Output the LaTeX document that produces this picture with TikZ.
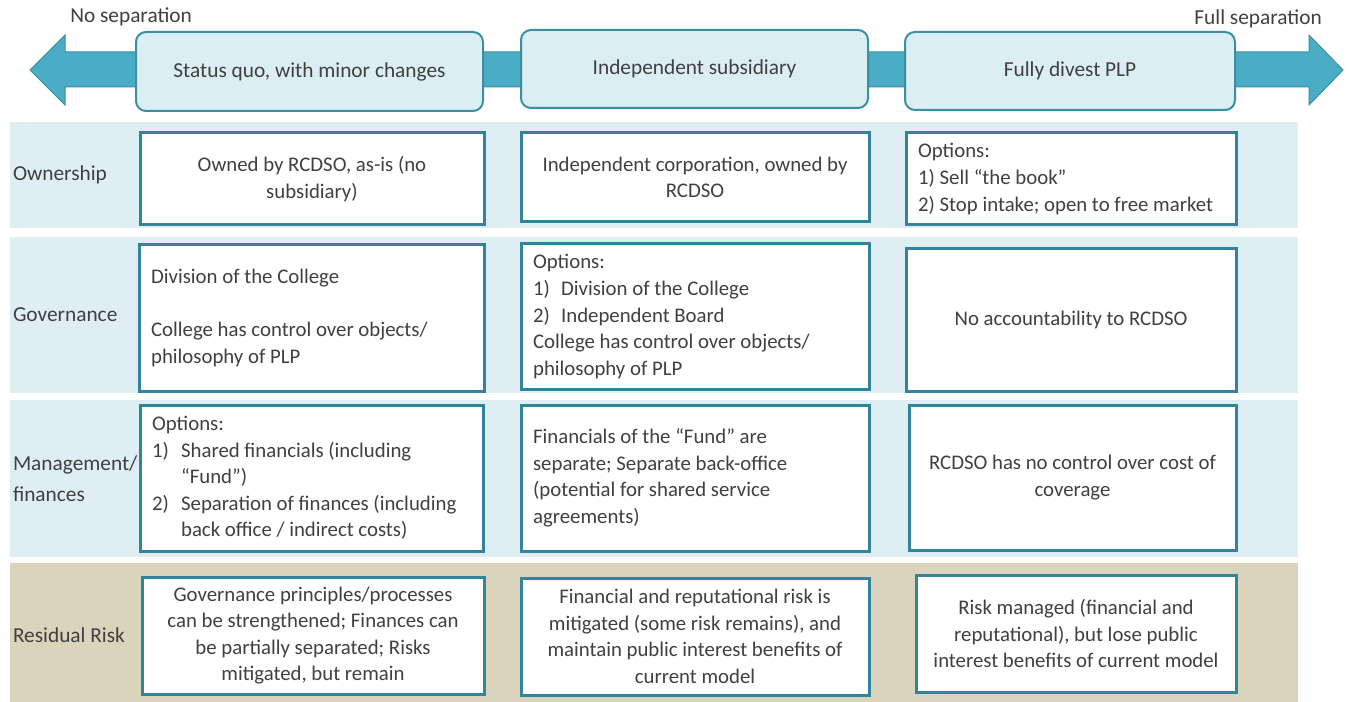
\documentclass[tikz,border=0pt]{standalone}
\usepackage{fontspec}
\setmainfont{Carlito}
\usepackage{tikz}
\usetikzlibrary{positioning}

\definecolor{tealline}{HTML}{31849B}
\definecolor{arrowfill}{HTML}{4BACC6}
\definecolor{arrowline}{HTML}{3C8EA1}
\definecolor{stagefill}{HTML}{DBEEF3}
\definecolor{blueband}{HTML}{DEEEF3}
\definecolor{tanband}{HTML}{D9D4BB}
\definecolor{textgrey}{HTML}{404040}

\begin{document}
\begin{tikzpicture}[
x=0.75pt, y=-0.75pt,
every node/.style={text=textgrey, font=\fontsize{16}{19.9}\selectfont},
stagenode/.style={rectangle, rounded corners=7.5pt, draw=arrowline, line width=1.5pt, fill=stagefill, inner sep=0pt},
bandnode/.style={rectangle, inner sep=0pt, minimum width=966pt},
cellnode/.style={rectangle, draw=tealline, line width=2.25pt, fill=white, inner sep=0pt, align=center, font=\fontsize{15.6}{19.9}\selectfont},
celltext/.style={inner sep=0pt, align=left, font=\fontsize{15.6}{19.9}\selectfont},
rowlabel/.style={inner sep=0pt, align=left},
]
\useasboundingbox (0,0) rectangle (1349,702);

% Separation scale in the background
\fill[arrowfill, draw=arrowline, line width=0.75pt]
  (30,70) -- (65,35) -- (65,52) -- (1309,52) -- (1309,35) -- (1343,70)
  -- (1309,105) -- (1309,87) -- (65,87) -- (65,105) -- cycle;

\node[inner sep=0pt, anchor=west] (noseparation) at (70,17) {No separation};
\node[inner sep=0pt, anchor=east] (fullseparation) at (1322,19) {Full separation};

% Stage nodes
\node[stagenode, minimum width=260.25pt, minimum height=59.25pt] (statusquo) at (309.5,71.5) {Status quo, with minor changes};
\node[stagenode, minimum width=260.25pt, minimum height=58.5pt] (subsidiary) at (694.5,69) {Independent subsidiary};
\node[stagenode, minimum width=247.5pt, minimum height=58.5pt] (divest) at (1070,71) {Fully divest PLP};

% Row bands
\node[bandnode, fill=blueband, minimum height=79.5pt] (ownershipband) at (654,175) {};
\node[bandnode, fill=blueband, minimum height=117pt] (governanceband) at (654,315) {};
\node[bandnode, fill=blueband, minimum height=117.75pt] (financeband) at (654,478.5) {};
\node[bandnode, fill=tanband, minimum height=104.25pt] (riskband) at (654,632.5) {};

% Row labels
\node[rowlabel, right=2.25pt of ownershipband.west] (ownershiplabel) {Ownership};
\node[rowlabel, right=2.25pt of governanceband.west] (governancelabel) {Governance};
\node[rowlabel, right=2.25pt of financeband.west, font=\fontsize{16}{23}\selectfont] (financelabel) {Management/\\finances};
\node[rowlabel, right=2.25pt of riskband.west, yshift=-2pt] (risklabel) {Residual Risk};

% Ownership cells
\node[cellnode, minimum width=258pt, minimum height=69pt] (ownstatus) at (312,179)
  {Owned by RCDSO, as-is (no\\subsidiary)};
\node[cellnode, minimum width=261pt, minimum height=66.75pt] (ownsubsidiary) at (695,177.5)
  {Independent corporation, owned by\\RCDSO};
\node[cellnode, minimum width=247.5pt, minimum height=69pt] (owndivest) at (1071,179) {};
\node[celltext, right=10pt of owndivest.west] (owndivesttext)
  {Options:\\1) Sell “the book”\\2) Stop intake; open to free market};

% Governance cells
\node[cellnode, minimum width=258.75pt, minimum height=109.5pt] (govstatus) at (311.5,318) {};
\node[celltext, right=10pt of govstatus.west] (govstatustext)
  {Division of the College\\[19.9pt]College has control over objects/\\philosophy of PLP};
\node[cellnode, minimum width=261pt, minimum height=108.75pt] (govsubsidiary) at (695,316.5) {};
\node[celltext, right=10pt of govsubsidiary.west] (govsubsidiarytext)
  {Options:\\\makebox[21pt][l]{1)}Division of the College\\\makebox[21pt][l]{2)}Independent Board\\College has control over objects/\\philosophy of PLP};
\node[cellnode, minimum width=247.5pt, minimum height=106.5pt] (govdivest) at (1071,320)
  {No accountability to RCDSO};

% Management/finances cells
\node[cellnode, minimum width=257.25pt, minimum height=109.5pt] (finstatus) at (311.5,478) {};
\node[celltext, right=10pt of finstatus.west] (finstatustext)
  {Options:\\\makebox[21.75pt][l]{1)}Shared financials (including\\\hspace*{21.75pt}“Fund”)\\\makebox[21.75pt][l]{2)}Separation of finances (including\\\hspace*{21.75pt}back office / indirect costs)};
\node[cellnode, minimum width=261pt, minimum height=109.5pt] (finsubsidiary) at (695,478) {};
\node[celltext, right=10pt of finsubsidiary.west] (finsubsidiarytext)
  {Financials of the “Fund” are\\separate; Separate back-office\\(potential for shared service\\agreements)};
\node[cellnode, minimum width=245.25pt, minimum height=108.75pt] (findivest) at (1072.5,477.5)
  {RCDSO has no control over cost of\\coverage};

% Residual risk cells
\node[cellnode, minimum width=256.5pt, minimum height=87.75pt] (riskstatus) at (313,635.5)
  {Governance principles/processes\\can be strengthened; Finances can\\be partially separated; Risks\\mitigated, but remain};
\node[cellnode, minimum width=261pt, minimum height=87.75pt] (risksubsidiary) at (695,636.5)
  {Financial and reputational risk is\\mitigated (some risk remains), and\\maintain public interest benefits of\\current model};
\node[cellnode, minimum width=240pt, minimum height=87.75pt] (riskdivest) at (1076,633.5)
  {Risk managed (financial and\\reputational), but lose public\\interest benefits of current model};
\end{tikzpicture}
\end{document}
